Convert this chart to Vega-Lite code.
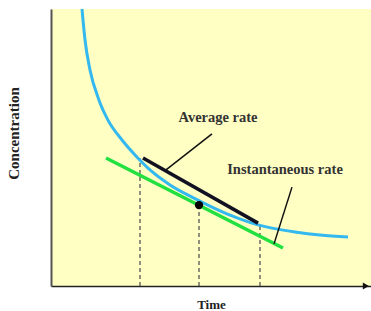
{
  "$schema": "https://vega.github.io/schema/vega-lite/v6.json",
  "width": 320,
  "height": 277,
  "autosize": "none",
  "padding": {"left": 51, "top": 9, "right": 0, "bottom": 25},
  "background": "white",
  "view": {"fill": "#FFFFC4", "stroke": null},
  "datasets": {
    "curve": [
      {"t": 0.969, "c": 10.0}, {"t": 1.063, "c": 8.88}, {"t": 1.219, "c": 7.8},
      {"t": 1.5, "c": 6.71}, {"t": 1.781, "c": 5.99}, {"t": 2.219, "c": 5.27},
      {"t": 2.625, "c": 4.73}, {"t": 3.094, "c": 4.19}, {"t": 3.719, "c": 3.65},
      {"t": 4.406, "c": 3.21}, {"t": 5.031, "c": 2.85}, {"t": 5.656, "c": 2.53},
      {"t": 6.281, "c": 2.27}, {"t": 6.906, "c": 2.09}, {"t": 7.625, "c": 1.95},
      {"t": 8.406, "c": 1.84}, {"t": 9.281, "c": 1.77}
    ],
    "dashes": [
      {"t": 2.781, "c0": 0, "c1": 4.62},
      {"t": 4.625, "c0": 0, "c1": 2.92},
      {"t": 6.531, "c0": 0, "c1": 2.27}
    ],
    "segs": [
      {"name": "tangent", "t0": 1.719, "c0": 4.62, "t1": 7.25, "c1": 1.37},
      {"name": "secant", "t0": 2.875, "c0": 4.62, "t1": 6.469, "c1": 2.27}
    ],
    "leaders": [
      {"t0": 5.031, "c0": 5.49, "t1": 3.594, "c1": 4.19},
      {"t0": 7.531, "c0": 3.57, "t1": 6.969, "c1": 1.52}
    ],
    "labels": [
      {"t": 5.219, "c": 6.06, "text": "Average rate"},
      {"t": 7.313, "c": 4.19, "text": "Instantaneous rate"}
    ],
    "dot": [{"t": 4.625, "c": 2.92}],
    "arrow": [{"t": 9.84, "c": 0}]
  },
  "layer": [
    {
      "data": {"name": "dashes"},
      "mark": {"type": "rule", "color": "#555555", "strokeWidth": 1.3, "strokeDash": [4, 3]},
      "encoding": {
        "x": {"field": "t", "type": "quantitative", "scale": {"domain": [0, 10]},
          "axis": {"title": "Time", "labels": false, "ticks": false, "grid": false,
            "domainColor": "#222222", "domainWidth": 1.5,
            "titleFont": "Liberation Serif", "titleFontSize": 13, "titleFontWeight": "bold",
            "titleColor": "#222222", "titlePadding": 12}},
        "y": {"field": "c0", "type": "quantitative", "scale": {"domain": [0, 10]},
          "axis": {"title": "Concentration", "labels": false, "ticks": false, "grid": false,
            "domainColor": "#555555", "domainWidth": 2,
            "titleFont": "Liberation Serif", "titleFontSize": 15, "titleFontWeight": "bold",
            "titleColor": "#222222", "titleX": -30, "titleY": 124}},
        "y2": {"field": "c1"}
      }
    },
    {
      "data": {"name": "curve"},
      "mark": {"type": "line", "color": "#33B8F0", "strokeWidth": 3, "interpolate": "monotone"},
      "encoding": {
        "x": {"field": "t", "type": "quantitative"},
        "y": {"field": "c", "type": "quantitative"}
      }
    },
    {
      "data": {"name": "segs"},
      "mark": {"type": "rule", "strokeWidth": 3.5},
      "encoding": {
        "x": {"field": "t0", "type": "quantitative"},
        "y": {"field": "c0", "type": "quantitative"},
        "x2": {"field": "t1"},
        "y2": {"field": "c1"},
        "color": {"field": "name", "type": "nominal",
          "scale": {"domain": ["tangent", "secant"], "range": ["#22E040", "#111122"]}, "legend": null}
      }
    },
    {
      "data": {"name": "leaders"},
      "mark": {"type": "rule", "strokeWidth": 1.5, "color": "#111111"},
      "encoding": {
        "x": {"field": "t0", "type": "quantitative"},
        "y": {"field": "c0", "type": "quantitative"},
        "x2": {"field": "t1"},
        "y2": {"field": "c1"}
      }
    },
    {
      "data": {"name": "dot"},
      "mark": {"type": "point", "filled": true, "color": "#000000", "size": 70, "opacity": 1},
      "encoding": {
        "x": {"field": "t", "type": "quantitative"},
        "y": {"field": "c", "type": "quantitative"}
      }
    },
    {
      "data": {"name": "labels"},
      "mark": {"type": "text", "font": "Liberation Serif", "fontSize": 14.5, "fontWeight": "bold", "color": "#333333", "align": "center", "baseline": "middle"},
      "encoding": {
        "x": {"field": "t", "type": "quantitative"},
        "y": {"field": "c", "type": "quantitative"},
        "text": {"field": "text"}
      }
    },
    {
      "data": {"name": "arrow"},
      "mark": {"type": "point", "shape": "triangle-right", "filled": true, "color": "#111111", "size": 50, "opacity": 1},
      "encoding": {
        "x": {"field": "t", "type": "quantitative"},
        "y": {"field": "c", "type": "quantitative"}
      }
    }
  ]
}
